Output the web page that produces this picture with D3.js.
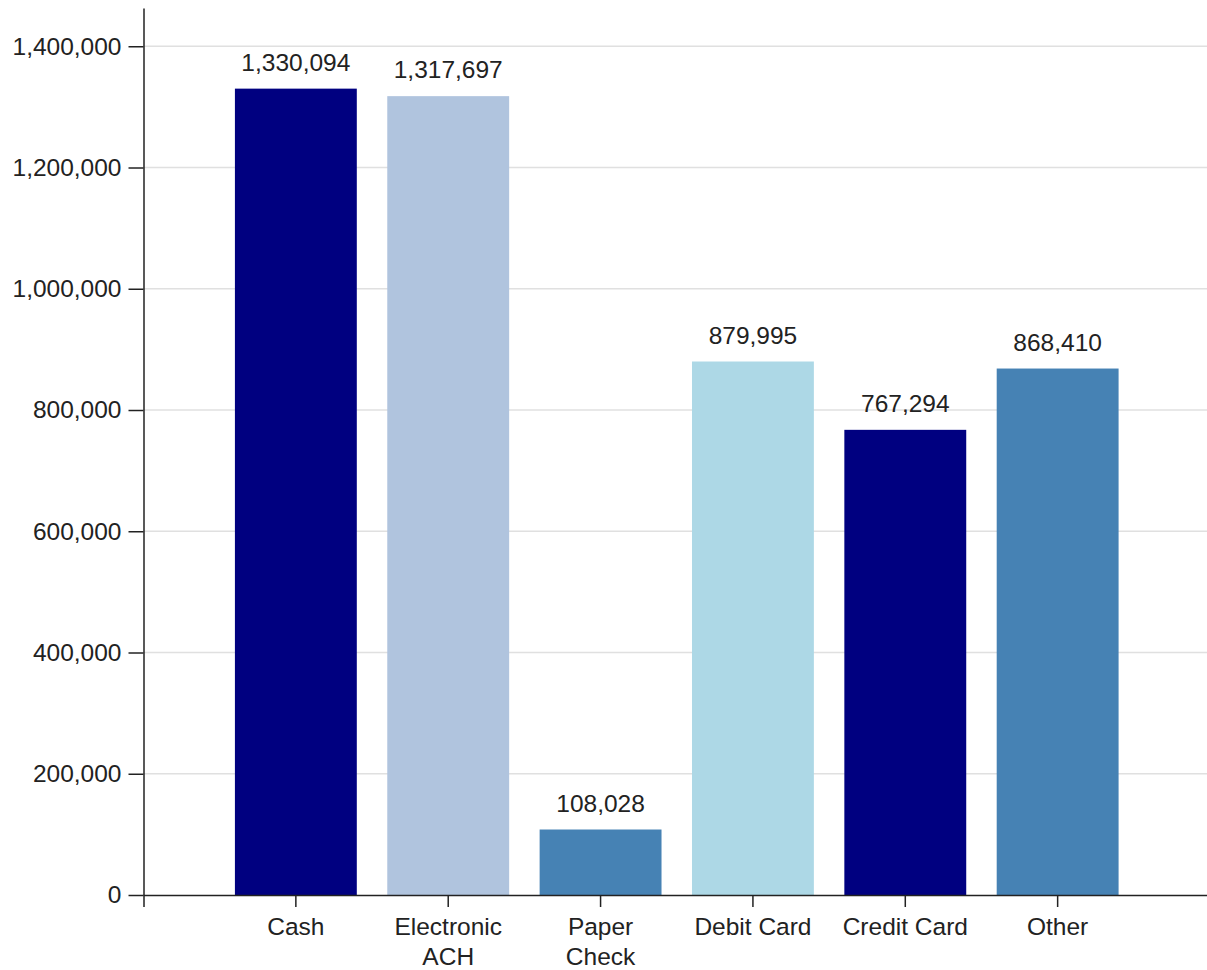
<!DOCTYPE html>
<html><head><meta charset="utf-8">
<script src="https://cdn.jsdelivr.net/npm/d3@7"></script>
<style>
html,body{margin:0;padding:0;background:#fff;}
svg{display:block;font-family:"Liberation Sans",Arial,sans-serif;}
</style></head>
<body><svg id="chart" width="1207" height="970"></svg>
<script>
const categories = ["Cash", "Electronic ACH", "Paper Check", "Debit Card", "Credit Card", "Other"];
const values = [1330094, 1317697, 108028, 879995, 767294, 868410];
const colors = ["#000080", "#B0C4DE", "#4682B4", "#ADD8E6", "#000080", "#4682B4"];
const yTicks = [0, 200000, 400000, 600000, 800000, 1000000, 1200000, 1400000];

const svg = d3.select("#chart");
const fs = 24.5;
const x = d3.scaleBand().domain(categories).range([143.5, 1210]).paddingInner(0.2).paddingOuter(0.6);
const y = d3.scaleLinear().domain([0, d3.max(values) * 1.1]).range([895, 8]);
const fmt = d3.format(",");

// grid
svg.append("g").selectAll("line").data(yTicks.filter(d => d > 0)).join("line")
  .attr("x1", 143.5).attr("x2", 1210)
  .attr("y1", d => y(d)).attr("y2", d => y(d))
  .attr("stroke", "#e0e0e0").attr("stroke-width", 1.5);

// bars
svg.append("g").selectAll("rect").data(categories).join("rect")
  .attr("x", d => x(d)).attr("width", x.bandwidth())
  .attr("y", (d, i) => y(values[i])).attr("height", (d, i) => y(0) - y(values[i]))
  .attr("fill", (d, i) => colors[i]);

// value labels
svg.append("g").selectAll("text").data(categories).join("text")
  .attr("x", d => x(d) + x.bandwidth() / 2)
  .attr("y", (d, i) => y(values[i]) - 18)
  .attr("text-anchor", "middle").attr("font-size", fs).attr("fill", "#222")
  .text((d, i) => fmt(values[i]));

// y axis
const yAxis = svg.append("g").attr("transform", "translate(143.5,0)")
  .call(d3.axisLeft(y).tickValues(yTicks).tickFormat(fmt).tickSize(15).tickSizeOuter(0).tickPadding(7));
yAxis.select(".domain").attr("stroke", "#222").attr("stroke-width", 1.5);
yAxis.selectAll(".tick line").attr("stroke", "#222").attr("stroke-width", 1.5);
yAxis.selectAll("text").attr("font-size", fs).attr("fill", "#222").attr("font-family", null);

// x axis
const xAxis = svg.append("g").attr("transform", "translate(0,895)")
  .call(d3.axisBottom(x).tickSize(12).tickSizeOuter(12).tickPadding(11));
xAxis.select(".domain").attr("stroke", "#222").attr("stroke-width", 1.5);
xAxis.selectAll(".tick line").attr("stroke", "#222").attr("stroke-width", 1.5);
xAxis.selectAll(".tick text").attr("font-size", fs).attr("fill", "#222").attr("font-family", null)
  .each(function(d) {
    const t = d3.select(this);
    const words = d.split(" ");
    let lines = [];
    if (d === "Electronic ACH" || d === "Paper Check") lines = words; else lines = [d];
    t.text(null);
    lines.forEach((w, i) => {
      t.append("tspan").attr("x", 0).attr("dy", i === 0 ? "0.71em" : "30px").text(w);
    });
  });
</script>
</body></html>
